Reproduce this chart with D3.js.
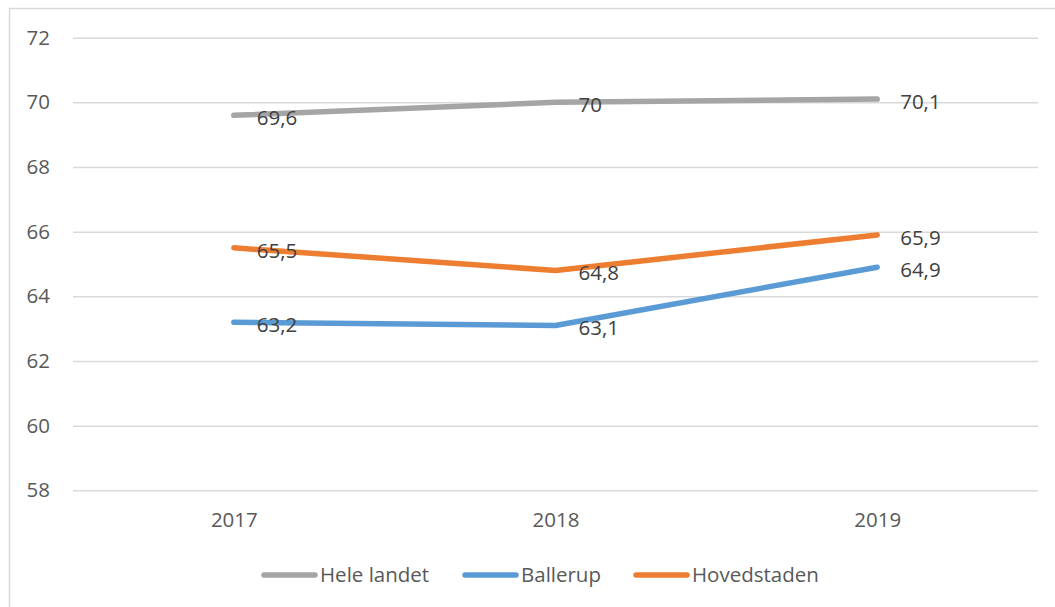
<!DOCTYPE html>
<html><head><meta charset="utf-8">
<script src="https://cdn.jsdelivr.net/npm/d3@7"></script>
<style>body{margin:0;background:#fff;overflow:hidden}svg{display:block}</style>
</head><body>
<svg id="c" width="1055" height="607"></svg>
<script>
const categories = ["2017", "2018", "2019"];
const seriesNames = ["Hele landet", "Ballerup", "Hovedstaden"];
const heleLandet = [69.6, 70, 70.1];
const ballerup = [63.2, 63.1, 64.9];
const hovedstaden = [65.5, 64.8, 65.9];
const yTicks = [58, 60, 62, 64, 66, 68, 70, 72];
const colors = ["#A5A5A5", "#5B9BD5", "#ED7D31"];

const series = [heleLandet, ballerup, hovedstaden];
const svg = d3.select("#c");
const font = "'Open Sans', sans-serif";
const textCol = "#595959";
const fs = "20.5px";

svg.append("rect").attr("x", 9.5).attr("y", 8.5).attr("width", 1200).attr("height", 800)
  .attr("fill", "#fff").attr("stroke", "#D9D9D9").attr("stroke-width", 1.5);

const x = d3.scalePoint().domain(categories).range([73, 1038]).padding(0.5);
const y = d3.scaleLinear().domain([58, 72]).range([490.3, 37.7]);

const yAxis = svg.append("g").attr("transform", "translate(73,0)")
  .call(d3.axisLeft(y).tickValues(yTicks).tickSize(-965).tickPadding(23).tickFormat(d3.format("d")));
yAxis.select(".domain").remove();
yAxis.selectAll("line").attr("stroke", "#D9D9D9").attr("stroke-width", 1.5);
yAxis.selectAll("text").attr("fill", textCol).style("font-family", font).style("font-size", fs);

const xAxis = svg.append("g").attr("transform", "translate(0,490.3)")
  .call(d3.axisBottom(x).tickSize(0).tickPadding(22));
xAxis.select(".domain").remove();
xAxis.selectAll("text").attr("fill", textCol).style("font-family", font).style("font-size", fs);

const line = d3.line().x((d, i) => x(categories[i])).y(d => y(d));
const fmt = v => String(v).replace(".", ",");

series.forEach((s, k) => {
  svg.append("path").datum(s).attr("d", line).attr("fill", "none")
    .attr("stroke", colors[k]).attr("stroke-width", 5.5)
    .attr("stroke-linecap", "round").attr("stroke-linejoin", "round");
});
series.forEach((s, k) => {
  svg.append("g").selectAll("text").data(s).join("text")
    .attr("x", (d, i) => x(categories[i]) + 23)
    .attr("y", d => y(d) + 2.5)
    .attr("dy", "0.35em")
    .attr("fill", "#404040").style("font-family", font).style("font-size", fs)
    .text(d => fmt(d));
});

// legend
const legendItems = [
  {name: seriesNames[0], x0: 262},
  {name: seriesNames[1], x0: 463},
  {name: seriesNames[2], x0: 634}
];
const lg = svg.append("g");
legendItems.forEach((it, k) => {
  lg.append("line").attr("x1", it.x0 + 2).attr("x2", it.x0 + 53).attr("y1", 575).attr("y2", 575)
    .attr("stroke", colors[k]).attr("stroke-width", 5.5).attr("stroke-linecap", "round");
  lg.append("text").attr("x", it.x0 + 58).attr("y", 575).attr("dy", "0.35em")
    .attr("fill", textCol).style("font-family", font).style("font-size", fs).text(it.name);
});
</script>
</body></html>
